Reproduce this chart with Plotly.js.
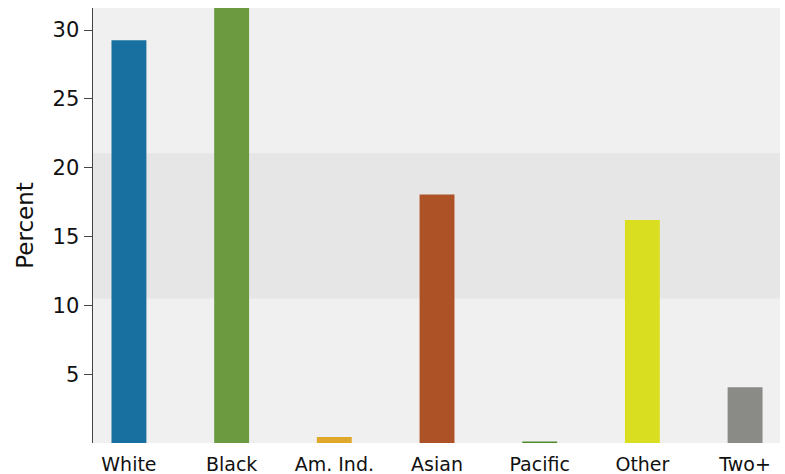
<!DOCTYPE html>
<html>
<head>
<meta charset="utf-8">
<script src="https://cdn.plot.ly/plotly-3.0.1.min.js"></script>
<style>html,body{margin:0;padding:0;background:#fff;}#chart{width:785px;height:474px;}</style>
</head>
<body>
<div id="chart"></div>
<script>
var categories = ["White", "Black", "Am. Ind.", "Asian", "Pacific", "Other", "Two+"];
var percents = [29.25, 32.5, 0.43, 18.05, 0.1, 16.2, 4.05];
var barColors = ["#17709f", "#6b9a41", "#e0a82b", "#ad5227", "#4e8a2c", "#d9df20", "#8a8a86"];
var yTicks = [5, 10, 15, 20, 25, 30];
var bandRange = [10.5, 21.05];

var trace = {
  type: "bar",
  x: categories,
  y: percents,
  marker: {color: barColors},
  width: 0.34,
  hoverinfo: "x+y"
};

var layout = {
  width: 785,
  height: 474,
  margin: {l: 92.5, r: 5, t: 8, b: 31},
  paper_bgcolor: "#ffffff",
  plot_bgcolor: "#f0f0f0",
  font: {family: "DejaVu Sans, Verdana, sans-serif", color: "#111"},
  showlegend: false,
  xaxis: {
    range: [-0.35, 6.34],
    showgrid: false,
    zeroline: false,
    showline: false,
    ticks: "outside",
    ticklen: 4,
    tickcolor: "rgba(0,0,0,0)",
    tickfont: {size: 19, color: "#111"}
  },
  yaxis: {
    range: [0, 31.6],
    tickvals: yTicks,
    ticktext: yTicks.map(String),
    showgrid: false,
    zeroline: false,
    showline: true,
    linecolor: "#444",
    linewidth: 1.5,
    ticks: "outside",
    ticklen: 8,
    tickcolor: "#444",
    tickfont: {size: 21, color: "#111"},
    title: {text: "Percent", font: {size: 23, color: "#111"}, standoff: 12}
  },
  shapes: [{
    type: "rect",
    xref: "paper",
    yref: "y",
    x0: 0,
    x1: 1,
    y0: bandRange[0],
    y1: bandRange[1],
    fillcolor: "#e6e6e6",
    line: {width: 0},
    layer: "below"
  }]
};

Plotly.newPlot("chart", [trace], layout, {displayModeBar: false, staticPlot: true});
</script>
</body>
</html>
